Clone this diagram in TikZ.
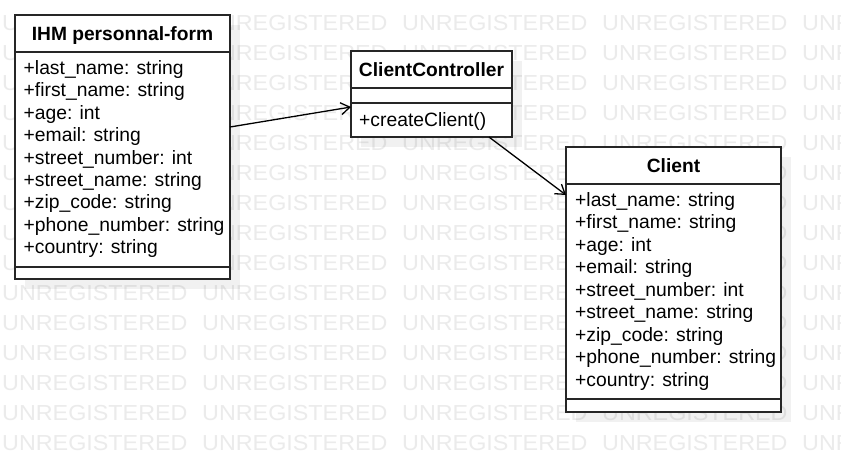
\documentclass[tikz,border=0pt]{standalone}
\usepackage{fontspec}
\usepackage{graphicx}
\setmainfont{Liberation Sans}
\usetikzlibrary{arrows.meta}
\begin{document}
\begin{tikzpicture}[x=1pt,y=-1pt,
  box/.style={draw=black!85,line width=1.4pt,fill=white,inner sep=0pt,outer sep=0pt,anchor=north west},
  shadowbox/.style={fill=black,fill opacity=0.055,draw=none},
  sep/.style={draw=black!85,line width=1.4pt},
  attr/.style={anchor=base west,inner sep=0pt,font=\fontsize{19.3}{22}\selectfont},
  title/.style={anchor=base,inner sep=0pt,font=\fontsize{19.2}{22}\selectfont\bfseries},
  wm/.style={anchor=base west,inner sep=0pt,text=black!8,font=\fontsize{21.7}{26}\selectfont},
  conn/.style={line width=1.3pt,-{Straight Barb[length=9pt,width=12pt]}}]
\useasboundingbox (0,0) rectangle (841,472);
\clip (0,0) rectangle (841,472);
\fill[white] (0,0) rectangle (841,472);
% watermark
\foreach \r in {0,...,14}
  \foreach \c in {0,...,4}
    \node[wm] (wm-\r-\c) at ({2+200*\c},{30+30*\r}) {\scalebox{1.075}[1]{UNREGISTERED}};
% shadows
\fill[shadowbox] (25,25) rectangle (240,289);
\fill[shadowbox] (361,61) rectangle (522,147);
\fill[shadowbox] (576,157) rectangle (791,422);
% boxes
\node[box,minimum width=215pt,minimum height=264pt] (form) at (15,15) {};
\draw[sep] (15,52) -- (230,52);
\draw[sep] (15,267) -- (230,267);
\node[box,minimum width=161pt,minimum height=86pt] (ctrl) at (351,51) {};
\draw[sep] (351,88) -- (512,88);
\draw[sep] (351,103) -- (512,103);
\node[box,minimum width=215pt,minimum height=265pt] (client) at (566,147) {};
\draw[sep] (566,184) -- (781,184);
\draw[sep] (566,399) -- (781,399);
% titles
\node[title] (formT) at (122.5,40) {IHM personnal-form};
\node[title] (ctrlT) at (431.5,76) {ClientController};
\node[title] (clientT) at (673.5,172) {Client};
\node[attr] (ctrlM) at (359,126) {+createClient()};
% attributes
\foreach \t [count=\i from 0] in {+last\_name: string,+first\_name: string,+age: int,+email: string,+street\_number: int,+street\_name: string,+zip\_code: string,+phone\_number: string,+country: string}{
  \node[attr] (fa\i) at (23.5,{74.5+22.4*\i}) {\t};
  \node[attr] (ca\i) at (575,{206+22.5*\i}) {\t};
}
% connectors
\draw[conn] ([yshift=20pt]form.east) -- ([yshift=-13pt]ctrl.west);
\draw[conn] ([xshift=57.5pt]ctrl.south) -- ([yshift=84.5pt]client.west);
\end{tikzpicture}
\end{document}
